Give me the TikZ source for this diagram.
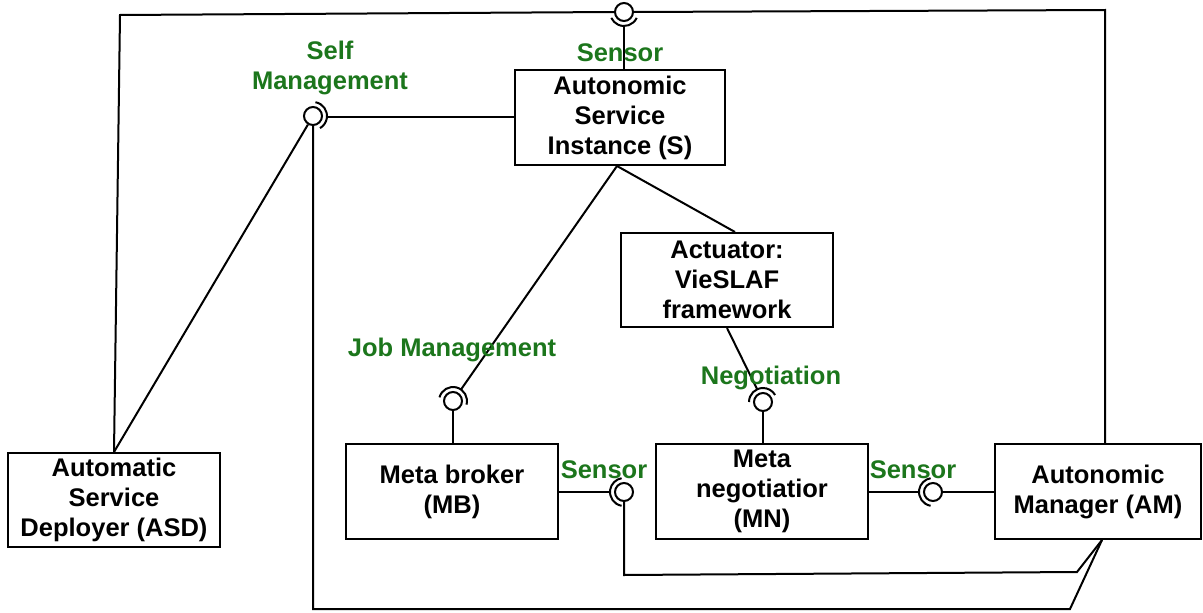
\documentclass[tikz,border=0pt]{standalone}
\usepackage{fontspec}
\setmainfont{Liberation Sans}
\definecolor{lblgreen}{RGB}{28,118,28}
\begin{document}
\begin{tikzpicture}[x=1pt,y=-1pt,line width=2pt,
  box/.style={draw,rectangle,align=center,inner sep=0pt,minimum width=212pt,minimum height=94pt,font=\bfseries\fontsize{25.5}{30}\selectfont},
  ball/.style={draw,circle,minimum size=18pt,inner sep=0pt},
  lbl/.style={text=lblgreen,align=center,inner sep=0pt,font=\bfseries\fontsize{25.5}{30}\selectfont}]
\useasboundingbox (0,0) rectangle (1203,613);
% boxes
\node[box] (asd) at (114,500) {Automatic\\Service\\Deployer (ASD)};
\node[box,minimum width=210pt,minimum height=95pt] (S) at (620,117.5) {Autonomic\\Service\\Instance (S)};
\node[box] (act) at (727,280) {Actuator:\\VieSLAF\\framework};
\node[box,minimum height=95pt] (mb) at (452,491.5) {Meta broker\\(MB)};
\node[box,minimum height=95pt] (mn) at (762,491.5) {Meta\\negotiatior\\(MN)};
\node[box,minimum width=206pt,minimum height=95pt] (am) at (1098,491.5) {Autonomic\\Manager (AM)};
% balls
\node[ball] (sm) at (313,116) {};
\node[ball] (top) at (624,12) {};
\node[ball] (jm) at (453,401) {};
\node[ball] (ng) at (763,402) {};
\node[ball] (s1) at (624,492) {};
\node[ball] (s2) at (933,492) {};
% sockets
\draw (sm.center) ++(-80:14) arc[start angle=-80,end angle=60,radius=14];
\draw (top.center) ++(25:14) arc[start angle=25,end angle=155,radius=14];
\draw (jm.center) ++(195:14) arc[start angle=195,end angle=375,radius=14];
\draw (ng.center) ++(180:14) arc[start angle=180,end angle=330,radius=14];
\draw (s1.center) ++(100:14) arc[start angle=100,end angle=260,radius=14];
\draw (s2.center) ++(100:14) arc[start angle=100,end angle=260,radius=14];
% socket end points
\coordinate (smA) at (327,117);
\coordinate (topA) at (624,26);
\coordinate (jmA) at (461,389.5);
\coordinate (ngA) at (757,389);
\coordinate (s1A) at (610,492);
\coordinate (s2A) at (919,492);
% helper corners
\coordinate (tl) at (120,15);
\coordinate (tr) at (1105,10);
\coordinate (sb) at ([xshift=-3pt]S.south);
\coordinate (at) at ([xshift=8pt]act.north);
\coordinate (amB) at ([xshift=4pt]am.south);
\coordinate (c1) at (624,575);
\coordinate (c2) at (1077,572);
\coordinate (c3) at (313,609);
\coordinate (c4) at (1070,609);
% connectors
\draw (smA) -- (smA -| S.west);
\draw (sm) -- (asd.north);
\draw (asd.north) -- (tl) -- (top.west);
\draw (top.east) -- (tr) -- (tr |- am.north);
\draw (topA) -- (topA |- S.north);
\draw (jmA) -- (sb);
\draw (sb) -- (at);
\draw (jm.south) -- (jm.south |- mb.north);
\draw (ngA) -- (act.south);
\draw (ng.south) -- (ng.south |- mn.north);
\draw (s1A) -- (s1A -| mb.east);
\draw (s1.south) -- (c1) -- (c2) -- (amB);
\draw (s2A) -- (s2A -| mn.east);
\draw (s2.east) -- (s2.east -| am.west);
\draw (sm.south) -- (c3) -- (c4) -- (amB);
% labels
\node[lbl] (lsm) at (330,68) {Self\\Management};
\node[lbl] (ltop) at (620,53) {Sensor};
\node[lbl] (ljm) at (452,350) {Job Management};
\node[lbl] (lng) at (771,378) {Negotiation};
\node[lbl] (ls1) at (604,470) {Sensor};
\node[lbl] (ls2) at (913,470) {Sensor};
\end{tikzpicture}
\end{document}
